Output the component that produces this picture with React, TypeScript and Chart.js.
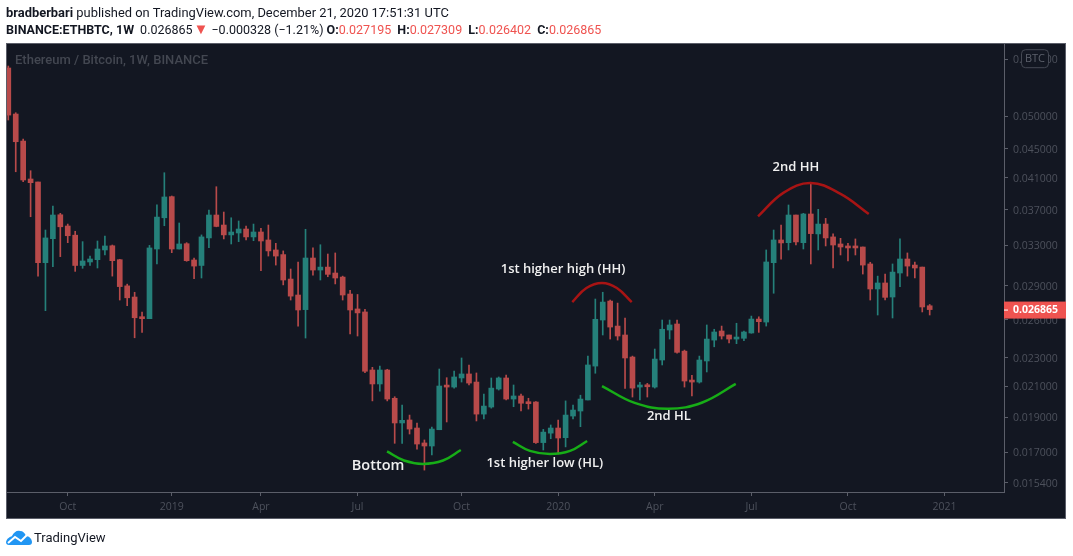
import { useEffect, useRef } from 'react';
import { Chart, registerables } from 'chart.js';

Chart.register(...registerables);

// weekly candles, ETHBTC, first bar is the week of 6 Aug 2018
const opens = [
	0.05833, 0.05032, 0.04614, 0.04085, 0.04046, 0.03123, 0.03373, 0.03642, 0.03513, 0.03411,
	0.03095, 0.0313, 0.03153, 0.03253, 0.03297, 0.03153, 0.02899, 0.02797, 0.02624, 0.02609,
	0.03263, 0.03607, 0.0386, 0.03263, 0.03319, 0.0315, 0.03095, 0.03381, 0.03639, 0.03524,
	0.03414, 0.03435, 0.03479, 0.03392, 0.03446, 0.03359, 0.03253, 0.03205, 0.02963, 0.02815,
	0.02686, 0.0317, 0.0305, 0.03079, 0.03021, 0.02982, 0.02824, 0.02692, 0.02666, 0.02213,
	0.02116, 0.02213, 0.02021, 0.01867, 0.01885, 0.01837, 0.01751, 0.01734, 0.01827, 0.02102,
	0.02095, 0.02157, 0.02185, 0.02129, 0.01921, 0.01965, 0.02082, 0.02157, 0.02016, 0.02036,
	0.01997, 0.01997, 0.01753, 0.01807, 0.01837, 0.01781, 0.01909, 0.0194, 0.0201, 0.02241,
	0.02598, 0.02761, 0.02548, 0.02476, 0.02307, 0.02095, 0.02109, 0.02095, 0.02285, 0.02516,
	0.02565, 0.02351, 0.02141, 0.02129, 0.02278, 0.02436, 0.02508, 0.02476, 0.02444, 0.0245,
	0.02492, 0.02606, 0.02581, 0.03123, 0.03359, 0.0333, 0.03639, 0.0333, 0.03651, 0.03425,
	0.03535, 0.03392, 0.03316, 0.03295, 0.03284, 0.03284, 0.0311, 0.0287, 0.02926, 0.02797,
	0.03021, 0.0316, 0.03099, 0.03079, 0.027195,
];
const highs = [
	0.0587, 0.05053, 0.04644, 0.04195, 0.04046, 0.03468, 0.03746, 0.03659, 0.03535, 0.03454,
	0.03341, 0.0319, 0.03348, 0.03402, 0.03305, 0.03157, 0.02915, 0.0284, 0.02666, 0.03301,
	0.03761, 0.04168, 0.03868, 0.03547, 0.0333, 0.0317, 0.03414, 0.03698, 0.03985, 0.03674,
	0.03607, 0.0357, 0.03513, 0.03535, 0.03487, 0.03524, 0.03323, 0.03243, 0.0306, 0.0313,
	0.03476, 0.03274, 0.03308, 0.03211, 0.03222, 0.02991, 0.02858, 0.0282, 0.02689, 0.02232,
	0.02241, 0.02218, 0.02031, 0.01978, 0.01915, 0.01867, 0.01768, 0.01843, 0.0222, 0.02159,
	0.02206, 0.023, 0.02249, 0.02192, 0.02049, 0.02157, 0.02164, 0.02178, 0.02109, 0.02049,
	0.02021, 0.01999, 0.01829, 0.01855, 0.01885, 0.02004, 0.01978, 0.02041, 0.02314, 0.02779,
	0.0284, 0.0277, 0.02743, 0.02615, 0.02314, 0.02127, 0.0212, 0.02367, 0.02598, 0.02598,
	0.02598, 0.02359, 0.02176, 0.02314, 0.02557, 0.02522, 0.02548, 0.02476, 0.02571, 0.02508,
	0.02631, 0.02625, 0.03253, 0.03468, 0.03524, 0.03758, 0.03639, 0.03659, 0.04042, 0.03706,
	0.036, 0.03425, 0.03377, 0.03323, 0.0337, 0.03284, 0.03127, 0.02991, 0.03011, 0.0311,
	0.0337, 0.03222, 0.0313, 0.03079, 0.027309,
];
const lows = [
	0.04936, 0.04181, 0.0405, 0.03619, 0.02991, 0.02677, 0.03082, 0.03184, 0.0333, 0.03037,
	0.03067, 0.03095, 0.0307, 0.03201, 0.02991, 0.0277, 0.0272, 0.02454, 0.02497, 0.02609,
	0.0311, 0.03516, 0.03225, 0.03263, 0.03137, 0.02966, 0.02973, 0.03277, 0.03504, 0.0337,
	0.03316, 0.03341, 0.03359, 0.03351, 0.03043, 0.0319, 0.03099, 0.02908, 0.0277, 0.02548,
	0.02452, 0.03001, 0.02954, 0.02985, 0.02917, 0.0277, 0.02485, 0.02468, 0.02194, 0.02004,
	0.02068, 0.02004, 0.01749, 0.01749, 0.01802, 0.01717, 0.01605, 0.01685, 0.01827, 0.01873,
	0.02088, 0.02129, 0.02109, 0.01879, 0.01891, 0.01958, 0.02075, 0.0201, 0.01967, 0.0194,
	0.01952, 0.01749, 0.01712, 0.01775, 0.0169, 0.01729, 0.01891, 0.01845, 0.0201, 0.0219,
	0.02476, 0.02444, 0.02436, 0.02086, 0.02029, 0.0201, 0.02029, 0.02088, 0.02249, 0.02444,
	0.02335, 0.02095, 0.02036, 0.02122, 0.02199, 0.02384, 0.02444, 0.02413, 0.02408, 0.02431,
	0.0249, 0.02497, 0.02548, 0.02831, 0.03157, 0.03253, 0.03305, 0.03263, 0.0311, 0.03253,
	0.03295, 0.0307, 0.03201, 0.0314, 0.03201, 0.03011, 0.0277, 0.0264, 0.0277, 0.02615,
	0.02892, 0.02991, 0.02973, 0.02666, 0.026402,
];
const closes = [
	0.05015, 0.04604, 0.04072, 0.04037, 0.03123, 0.03381, 0.03639, 0.03504, 0.03405, 0.03095,
	0.0314, 0.0316, 0.03263, 0.03295, 0.03143, 0.02892, 0.0279, 0.02617, 0.02609, 0.03274,
	0.03615, 0.03856, 0.03263, 0.03316, 0.03143, 0.03089, 0.03392, 0.03639, 0.03508, 0.03414,
	0.03446, 0.03479, 0.03392, 0.03446, 0.03348, 0.03243, 0.0319, 0.02954, 0.02805, 0.02683,
	0.0317, 0.0305, 0.03079, 0.03008, 0.02973, 0.02815, 0.02683, 0.02658, 0.02204, 0.02116,
	0.02213, 0.02016, 0.01867, 0.01883, 0.01831, 0.01745, 0.01734, 0.01831, 0.02102, 0.02095,
	0.02164, 0.02185, 0.02122, 0.01921, 0.01971, 0.02088, 0.02157, 0.02016, 0.02036, 0.01989,
	0.01986, 0.01753, 0.01813, 0.01837, 0.01779, 0.01915, 0.01946, 0.02016, 0.02249, 0.02604,
	0.02752, 0.0254, 0.02468, 0.023, 0.02088, 0.02109, 0.02097, 0.02292, 0.02522, 0.02557,
	0.02342, 0.02136, 0.02129, 0.02285, 0.02444, 0.025, 0.02468, 0.02444, 0.0246, 0.025,
	0.02606, 0.02584, 0.0313, 0.03359, 0.03327, 0.03639, 0.03338, 0.03651, 0.03428, 0.03535,
	0.03381, 0.03305, 0.03284, 0.03274, 0.03274, 0.03099, 0.0287, 0.02926, 0.02794, 0.0303,
	0.0316, 0.03089, 0.0307, 0.02709, 0.026865,
];

const xTickWeeks = [8, 22, 34, 47, 61, 74, 87, 100, 113, 126];
const xTickLabels = ['Oct', '2019', 'Apr', 'Jul', 'Oct', '2020', 'Apr', 'Jul', 'Oct', '2021'];
const yTicks = [0.06, 0.05, 0.045, 0.041, 0.037, 0.033, 0.029, 0.026, 0.023, 0.021, 0.019, 0.017, 0.0154];

// hand drawn swing arcs, [week, price]
const bottomArc = [[50.97, 0.01704], [53.26, 0.01655], [55.8, 0.01637], [58.5, 0.01655], [60.9, 0.01712]];
const firstLowArc = [[67.9, 0.01757], [70.2, 0.01707], [72.9, 0.0169], [75.6, 0.01707], [77.9, 0.01762]];
const secondLowArc = [[79.9, 0.02102], [84.3, 0.01991], [88.8, 0.01954], [93.4, 0.01994], [97.9, 0.02116]];
const firstHighArc = [[75.9, 0.02752], [77.8, 0.02879], [79.9, 0.02926], [81.9, 0.02879], [83.9, 0.02752]];
const secondHighArc = [[100.9, 0.03623], [104.3, 0.03907], [108, 0.04033], [112, 0.03894], [115.8, 0.03651]];

// [text, week, price, font size]
const notes: [string, number, number, number][] = [
	['Bottom', 49.76, 0.01626, 14.5],
	['1st higher low (HL)', 72.2, 0.01642, 13],
	['2nd HL', 88.9, 0.01909, 13],
	['1st higher high (HH)', 74.65, 0.0306, 13],
	['2nd HH', 106, 0.04244, 13],
];

const lastPrice = 0.026865;

const RED = '#b84a4a';
const TEAL = '#25807a';
const PANEL = '#131722';
const LINE = '#5b5e69';
const DIM = '#4d515c';
const PRICE_RED = '#ef5350';
const FONT = '"Open Sans", sans-serif';
const HEAD_FONT = 'Roboto, sans-serif';

const weeks = closes.map((_, i) => i);
const candleColors = closes.map((c, i) => (c < opens[i] ? RED : TEAL));

const arcDataset = (points: number[][], color: string) => ({
	type: 'line' as const,
	data: points.map(([x, y]) => ({ x, y })),
	borderColor: color,
	borderWidth: 2.5,
	pointRadius: 0,
	tension: 0.4,
	order: 0,
});

const panelPlugin = {
	id: 'panel',
	beforeDraw(chart: Chart) {
		const { ctx, width, height } = chart;
		ctx.save();
		ctx.fillStyle = '#ffffff';
		ctx.fillRect(0, 0, width, height);
		ctx.fillStyle = PANEL;
		ctx.fillRect(6, 43, 1060, 476);
		ctx.strokeStyle = LINE;
		ctx.lineWidth = 1;
		ctx.strokeRect(6.5, 43.5, 1059, 475);
		ctx.restore();
	},
	beforeDatasetsDraw(chart: Chart) {
		const { ctx } = chart;
		ctx.save();
		ctx.font = `500 13px ${HEAD_FONT}`;
		ctx.fillStyle = '#434751';
		ctx.textBaseline = 'middle';
		ctx.fillText('Ethereum / Bitcoin, 1W, BINANCE', 15, 60.5);
		ctx.restore();
	},
	afterDraw(chart: Chart) {
		const { ctx, scales } = chart;
		ctx.save();
		ctx.textBaseline = 'middle';
		ctx.textAlign = 'center';

		for (const [text, week, price, size] of notes) {
			ctx.font = `600 ${size}px ${FONT}`;
			ctx.fillStyle = '#f0f0f0';
			ctx.fillText(text, scales.x.getPixelForValue(week), scales.y.getPixelForValue(price));
		}

		// currency badge sits over the top tick
		const badgeY = scales.y.getPixelForValue(0.06);
		ctx.fillStyle = PANEL;
		ctx.strokeStyle = '#454954';
		ctx.beginPath();
		ctx.roundRect(1021.5, badgeY - 9.5, 27, 18, 4);
		ctx.fill();
		ctx.stroke();
		ctx.font = `11px ${FONT}`;
		ctx.fillStyle = '#5c606b';
		ctx.fillText('BTC', 1035, badgeY);

		// last price label
		const priceY = scales.y.getPixelForValue(lastPrice);
		ctx.fillStyle = PRICE_RED;
		ctx.fillRect(1004, priceY - 8, 62, 17);
		ctx.strokeStyle = '#ffffff';
		ctx.beginPath();
		ctx.moveTo(1004, priceY + 0.5);
		ctx.lineTo(1008, priceY + 0.5);
		ctx.stroke();
		ctx.font = `bold 10.5px ${FONT}`;
		ctx.fillStyle = '#ffffff';
		ctx.fillText(lastPrice.toFixed(6), 1035.5, priceY + 0.5);
		ctx.restore();
	},
};

const headerStyle = {
	position: 'absolute',
	left: 6,
	fontFamily: HEAD_FONT,
	fontSize: 13,
	lineHeight: '17px',
	whiteSpace: 'nowrap',
	color: '#131722',
} as const;

export default function App() {
	const canvasRef = useRef<HTMLCanvasElement>(null);

	useEffect(() => {
		document.body.style.margin = '0';
		const chart = new Chart(canvasRef.current!, {
			type: 'bar',
			data: {
				datasets: [
					arcDataset(bottomArc, '#17ad17'),
					arcDataset(firstLowArc, '#17ad17'),
					arcDataset(secondLowArc, '#17ad17'),
					arcDataset(firstHighArc, '#a81414'),
					arcDataset(secondHighArc, '#a81414'),
					{
						data: weeks.map((x) => ({ x, y: [lows[x], highs[x]] })),
						backgroundColor: candleColors,
						barThickness: 1,
						order: 2,
					},
					{
						data: weeks.map((x) => ({ x, y: [opens[x], closes[x]] })),
						backgroundColor: candleColors,
						barThickness: 5,
						minBarLength: 2,
						order: 1,
					},
				] as any,
			},
			options: {
				responsive: false,
				animation: false,
				devicePixelRatio: 1,
				layout: { padding: { left: 7, right: 7, top: 44, bottom: 37 } },
				plugins: { legend: { display: false }, tooltip: { enabled: false } },
				datasets: { bar: { grouped: false } },
				scales: {
					x: {
						type: 'linear',
						offset: false,
						bounds: 'data',
						min: -0.175,
						max: 134,
						grid: { offset: false, drawOnChartArea: false, tickLength: 4, tickColor: LINE },
						border: { color: LINE },
						afterFit(scale: any) {
							scale.height = 27;
						},
						afterBuildTicks(scale: any) {
							scale.ticks = xTickWeeks.map((value) => ({ value }));
						},
						ticks: {
							autoSkip: false,
							maxRotation: 0,
							padding: 5,
							color: DIM,
							font: { family: FONT, size: 10.5 },
							callback: (value: any) => xTickLabels[xTickWeeks.indexOf(value)],
						},
					},
					y: {
						type: 'logarithmic',
						position: 'right',
						bounds: 'data',
						min: 0.01496,
						max: 0.063,
						grid: { drawOnChartArea: false, tickLength: 4, tickColor: LINE },
						border: { color: LINE },
						afterFit(scale: any) {
							scale.width = 62;
						},
						afterBuildTicks(scale: any) {
							scale.ticks = yTicks.map((value) => ({ value }));
						},
						ticks: {
							autoSkip: false,
							padding: 5,
							labelOffset: 1,
							color: DIM,
							font: { family: FONT, size: 10.5 },
							callback: (value: any) => Number(value).toFixed(6),
						},
					},
				},
			},
			plugins: [panelPlugin],
		});
		return () => chart.destroy();
	}, []);

	return (
		<div style={{ position: 'relative', width: 1073, height: 556, overflow: 'hidden' }}>
			<canvas ref={canvasRef} width={1073} height={556} style={{ display: 'block' }} />
			<div style={{ ...headerStyle, top: 4, fontSize: 12.9 }}>
				<b>bradberbari</b> published on TradingView.com, December 21, 2020 17:51:31 UTC
			</div>
			<div style={{ ...headerStyle, top: 21, fontSize: 12.5 }}>
				<b>BINANCE:ETHBTC, 1W</b>
				<span style={{ marginLeft: 6 }}>0.026865</span>
				<span style={{ color: PRICE_RED, fontSize: 15, lineHeight: '15px', marginLeft: 1 }}>▼</span>
				<span style={{ marginLeft: 3 }}>−0.000328 (−1.21%)</span> <b>O:</b>
				<span style={{ color: PRICE_RED }}>0.027195</span> <b style={{ marginLeft: 3 }}>H:</b>
				<span style={{ color: PRICE_RED }}>0.027309</span> <b style={{ marginLeft: 3 }}>L:</b>
				<span style={{ color: PRICE_RED }}>0.026402</span> <b style={{ marginLeft: 3 }}>C:</b>
				<span style={{ color: PRICE_RED }}>0.026865</span>
			</div>
			<svg width="27" height="16" viewBox="0 0 27 16" style={{ position: 'absolute', left: 6, top: 530 }}>
				<path
					d="M0 12 C1 8 4 7 6 6 C8 2 11 0 14 1 C17 1 19 3 20 6 C23 6 26 9 26 12 C26 14 25 15 23 15 L3 15 C1 15 0 14 0 12 Z"
					fill="#2196f3"
				/>
				<path d="M2 13 L9 7 L15 11 L22 4" fill="none" stroke="#ffffff" strokeWidth="2" />
			</svg>
			<div style={{ ...headerStyle, left: 34, top: 529, fontSize: 13 }}>TradingView</div>
		</div>
	);
}
